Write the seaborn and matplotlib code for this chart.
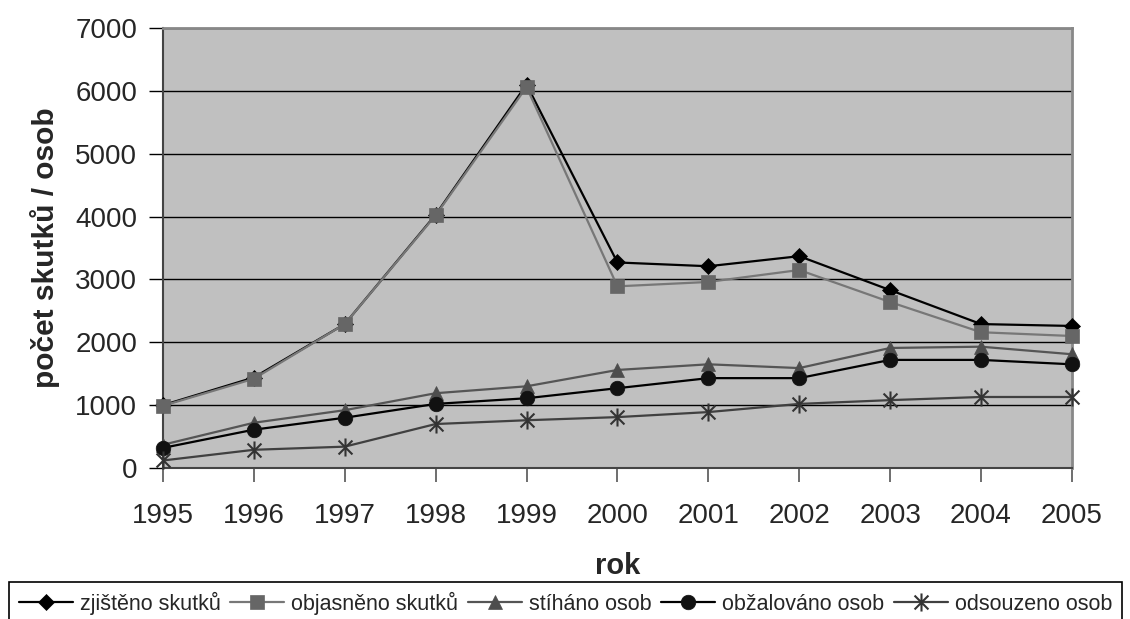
import numpy as np
import pandas as pd
import matplotlib
matplotlib.use("Agg")
import matplotlib.pyplot as plt
from matplotlib.path import Path
import seaborn as sns

# values
years = [1995, 1996, 1997, 1998, 1999, 2000, 2001, 2002, 2003, 2004, 2005]
zjisteno = [1000, 1440, 2290, 4030, 6100, 3270, 3210, 3370, 2830, 2290, 2260]
objasneno = [990, 1420, 2290, 4020, 6060, 2890, 2960, 3150, 2640, 2160, 2100]
stihano = [370, 720, 920, 1190, 1300, 1560, 1650, 1590, 1910, 1930, 1810]
obzalovano = [320, 610, 800, 1020, 1110, 1270, 1430, 1430, 1720, 1720, 1650]
odsouzeno = [120, 290, 340, 700, 760, 810, 890, 1020, 1080, 1130, 1130]

series_names = ["zjištěno skutků", "objasněno skutků", "stíháno osob",
                "obžalováno osob", "odsouzeno osob"]
y_ticks = [0, 1000, 2000, 3000, 4000, 5000, 6000, 7000]

sns.set_style("ticks")
plt.rcParams["font.family"] = ["Liberation Sans", "DejaVu Sans"]

# Excel-like star: X with a vertical stroke
star = Path(
    [(-1, -1), (1, 1), (-1, 1), (1, -1), (0, -1.3), (0, 1.3)],
    [Path.MOVETO, Path.LINETO, Path.MOVETO, Path.LINETO, Path.MOVETO, Path.LINETO],
)

styles = [
    dict(color="#000000", marker="D", markersize=8, mfc="#000000", mec="#000000", mew=0.5),
    dict(color="#777777", marker="s", markersize=9.5, mfc="#666666", mec="#666666", mew=0.5),
    dict(color="#555555", marker="^", markersize=10.5, mfc="#4d4d4d", mec="#4d4d4d", mew=0.5),
    dict(color="#000000", marker="o", markersize=10.5, mfc="#111111", mec="#111111", mew=0.5),
    dict(color="#404040", marker=star, markersize=13, mfc="none", mec="#333333", mew=1.5),
]

df = pd.DataFrame({"rok": years})
for name, vals in zip(series_names, [zjisteno, objasneno, stihano, obzalovano, odsouzeno]):
    df[name] = vals

fig = plt.figure(figsize=(11.3, 6.19), dpi=100)
ax = fig.add_axes([0.1442, 0.2439, 0.8044, 0.7109])
ax.set_facecolor("#c0c0c0")

for name, st in zip(series_names, styles):
    sns.lineplot(data=df, x="rok", y=name, ax=ax, label=name, linewidth=1.6,
                 clip_on=False, zorder=3, **st)

ax.set_xlim(1995, 2005)
ax.set_ylim(0, 7000)
ax.set_xticks(years)
ax.set_yticks(y_ticks)
ax.yaxis.grid(True, color="black", linewidth=1)
ax.set_axisbelow(True)

ax.tick_params(axis="y", direction="out", length=10, width=1, color="black",
               labelsize=20, pad=8.5)
ax.tick_params(axis="x", direction="out", length=10, width=1.2, color="#555555",
               labelsize=20, pad=15)

for side in ["top", "right"]:
    ax.spines[side].set_color("#888888")
    ax.spines[side].set_linewidth(2)
for side in ["left", "bottom"]:
    ax.spines[side].set_color("#444444")
    ax.spines[side].set_linewidth(1.5)

ax.set_xlabel("rok", fontsize=21, fontweight="bold", labelpad=17)
ax.set_ylabel("počet skutků / osob", fontsize=21.5, fontweight="bold", labelpad=11)

leg = ax.legend(loc="upper left", bbox_to_anchor=(9 / 1130, 1 - 582 / 619),
                bbox_transform=fig.transFigure, borderaxespad=0, ncol=5,
                fontsize=15.5, frameon=True, fancybox=False, edgecolor="black",
                handlelength=2.5, handletextpad=0.33, columnspacing=0.45,
                borderpad=0.45, numpoints=1)
leg.get_frame().set_linewidth(1.2)
leg.get_frame().set_facecolor("white")
leg.get_frame().set_alpha(1)

fig.savefig("out.png", dpi=100)
